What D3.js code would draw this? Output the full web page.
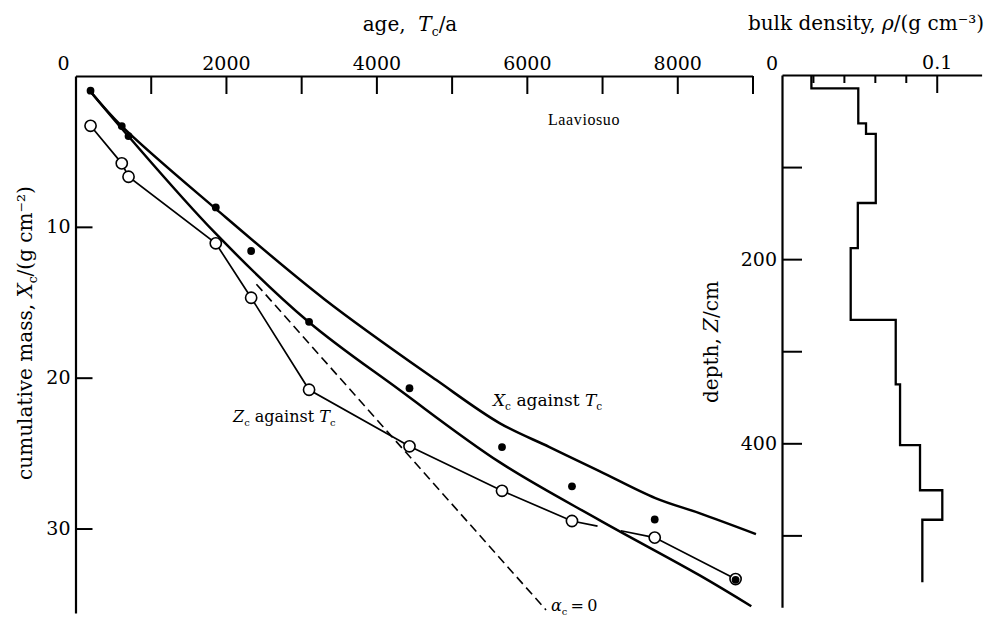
<!DOCTYPE html>
<html>
<head>
<meta charset="utf-8">
<script src="https://cdn.jsdelivr.net/npm/d3@7"></script>
<style>
  body { margin: 0; background: #fff; }
  svg { display: block; }
  text { fill: #000; }
</style>
</head>
<body>
<svg id="chart" width="1001" height="619"></svg>
<script>
// Radiocarbon-dated levels of the Laaviosuo core
const sampleAges = [200, 615, 705, 1865, 2335, 3105, 4440, 5670, 6600, 7700, 8775];
// cumulative mass X_c (filled dots) and Z_c (open circles), g cm^-2
const massX = [0.97, 3.32, 3.98, 8.71, 11.6, 16.3, 20.7, 24.6, 27.2, 29.4, 33.4];
const massZ = [3.3, 5.79, 6.68, 11.09, 14.7, 20.8, 24.55, 27.5, 29.5, 30.6, 33.35];

// fitted curves
const upperFitAges = [193, 614, 1866, 3313, 4797, 5637, 6301, 6965, 7709, 8293, 9046];
const upperFitMass = [0.99, 3.32, 8.81, 14.81, 20.16, 23.01, 24.60, 26.19, 27.98, 28.98, 30.37];
const lowerFitAges = [193, 701, 1853, 3101, 4309, 5637, 6965, 8293, 8984];
const lowerFitMass = [0.99, 3.98, 10.39, 16.31, 20.82, 25.60, 29.44, 33.09, 35.15];

// alpha_c = 0 reference line
const alphaZeroAges = [2405, 6255];
const alphaZeroMass = [13.8, 35.4];

// break in the Z_c line where it crosses the lower curve
const zcGapAges = [6940, 7250];

// axis ticks
const ageTicks = [1000, 2000, 3000, 4000, 5000, 6000, 7000, 8000, 9000];
const ageLabels = [2000, 4000, 6000, 8000];
const massTicks = [10, 20, 30];

// bulk density profile: layer boundaries (cm) and densities (g cm^-3)
const densityDepths = [0, 14.5, 52.5, 64, 139, 188, 266, 336, 402, 451, 483, 551];
const densityValues = [0.019, 0.0493, 0.0543, 0.0606, 0.049, 0.0444, 0.0735, 0.0763, 0.0892, 0.1036, 0.0907];
const densityTicks = [0.02, 0.04, 0.06, 0.08, 0.1];
const depthTicks = [100, 200, 300, 400, 500];
const depthLabels = [200, 400];

const svg = d3.select("#chart");
const SERIF = "'DejaVu Serif', serif";

const x = d3.scaleLinear().domain([0, 9000]).range([75.5, 752.5]);
const y = d3.scaleLinear().domain([0, 35.6]).range([76, 613]);
const rho = d3.scaleLinear().domain([0, 0.129]).range([782, 981.6]);
const z = d3.scaleLinear().domain([0, 578]).range([75, 607.2]);

function styleAxis(g, size) {
  g.select(".domain").attr("stroke", "#000").attr("stroke-width", 2.2);
  g.selectAll(".tick line").attr("stroke", "#000").attr("stroke-width", 2);
  g.selectAll(".tick text").attr("font-family", SERIF).attr("font-size", size).attr("fill", "#000");
}

// rich text: parts of {t, i (italic), sub}
function rich(parent, parts, size, attrs) {
  const t = parent.append("text").attr("font-family", SERIF).attr("font-size", size);
  Object.entries(attrs || {}).forEach(([k, v]) => t.attr(k, v));
  let shift = 0;
  parts.forEach(p => {
    const ts = t.append("tspan").text(p.t);
    let target = 0;
    if (p.sub) { ts.attr("font-size", size * 0.62); target = size * 0.25; }
    if (p.i) ts.attr("font-style", "italic");
    if (target !== shift) { ts.attr("dy", target - shift); shift = target; }
  });
  return t;
}

// ---- main panel axes ----
const gTop = svg.append("g").attr("transform", `translate(0,${y(0)})`)
  .call(d3.axisTop(x).tickValues(ageTicks).tickSizeInner(-18).tickSizeOuter(0).tickPadding(6)
    .tickFormat(d => ageLabels.includes(d) ? d : ""));
styleAxis(gTop, 19);
svg.append("text").attr("x", x(0) - 12).attr("y", y(0) - 6).attr("text-anchor", "middle")
  .attr("font-family", SERIF).attr("font-size", 19).text("0");

const gLeft = svg.append("g").attr("transform", `translate(${x(0)},0)`)
  .call(d3.axisLeft(y).tickValues(massTicks).tickSizeInner(-17).tickSizeOuter(0).tickPadding(5));
styleAxis(gLeft, 19);

// ---- curves ----
const line = d3.line().x(d => x(d[0])).y(d => y(d[1]));
const smooth = d3.line().x(d => x(d[0])).y(d => y(d[1])).curve(d3.curveCatmullRom.alpha(0.5));

svg.append("path").attr("d", smooth(d3.zip(upperFitAges, upperFitMass)))
  .attr("fill", "none").attr("stroke", "#000").attr("stroke-width", 2.5);
svg.append("path").attr("d", smooth(d3.zip(lowerFitAges, lowerFitMass)))
  .attr("fill", "none").attr("stroke", "#000").attr("stroke-width", 2.5);

svg.append("path").attr("d", line(d3.zip(alphaZeroAges, alphaZeroMass)))
  .attr("fill", "none").attr("stroke", "#000").attr("stroke-width", 1.6)
  .attr("stroke-dasharray", "9,5");

// Z_c polyline, broken between the 9th and 10th samples
const zPts = d3.zip(sampleAges, massZ);
const interpZ = a => {
  const i = d3.bisectLeft(sampleAges, a);
  const t = (a - sampleAges[i - 1]) / (sampleAges[i] - sampleAges[i - 1]);
  return [a, massZ[i - 1] + t * (massZ[i] - massZ[i - 1])];
};
const gapI = d3.bisectLeft(sampleAges, zcGapAges[0]);
const segA = zPts.slice(0, gapI).concat([interpZ(zcGapAges[0])]);
const segB = [interpZ(zcGapAges[1])].concat(zPts.slice(gapI));
[segA, segB].forEach(s => svg.append("path").attr("d", line(s))
  .attr("fill", "none").attr("stroke", "#000").attr("stroke-width", 1.7));

// ---- points ----
svg.append("g").selectAll("circle").data(zPts).join("circle")
  .attr("cx", d => x(d[0])).attr("cy", d => y(d[1])).attr("r", 5.6)
  .attr("fill", "#fff").attr("stroke", "#000").attr("stroke-width", 1.6);
svg.append("g").selectAll("circle").data(d3.zip(sampleAges, massX)).join("circle")
  .attr("cx", d => x(d[0])).attr("cy", d => y(d[1])).attr("r", 3.9).attr("fill", "#000");

// ---- annotations ----
rich(svg, [{t: "age,\u00a0 "}, {t: "T", i: true}, {t: "c", sub: true}, {t: "/a"}], 20,
  {x: 410, y: 31, "text-anchor": "middle"});
rich(svg, [{t: "cumulative mass, "}, {t: "X", i: true}, {t: "c", sub: true}, {t: "/(g cm\u207b\u00b2)"}], 20,
  {transform: "translate(32,333) rotate(-90)", "text-anchor": "middle"});
svg.append("text").attr("x", 548).attr("y", 125).attr("font-family", "'Liberation Serif', serif")
  .attr("font-size", 16).attr("letter-spacing", 0.6).text("Laaviosuo");
rich(svg, [{t: "X", i: true}, {t: "c", sub: true}, {t: " against "}, {t: "T", i: true}, {t: "c", sub: true}], 17,
  {x: 493, y: 406});
rich(svg, [{t: "Z", i: true}, {t: "c", sub: true}, {t: " against "}, {t: "T", i: true}, {t: "c", sub: true}], 16,
  {x: 233, y: 422});
rich(svg, [{t: "\u03b1", i: true}, {t: "c", sub: true}, {t: "\u2009=\u20090"}], 16, {x: 551, y: 611});

// ---- bulk density panel ----
const gRho = svg.append("g").attr("transform", `translate(0,${z(0)})`)
  .call(d3.axisTop(rho).tickValues(densityTicks).tickSizeInner(-8).tickSizeOuter(0).tickPadding(6)
    .tickFormat(d => d === 0.1 ? "0.1" : ""));
styleAxis(gRho, 19);
gRho.selectAll(".tick").filter(d => d === 0.1).select("line").attr("y2", 18);
svg.append("text").attr("x", rho(0) - 10).attr("y", z(0) - 5).attr("text-anchor", "middle")
  .attr("font-family", SERIF).attr("font-size", 19).text("0");

const gDepth = svg.append("g").attr("transform", `translate(${rho(0)},0)`)
  .call(d3.axisLeft(z).tickValues(depthTicks).tickSizeInner(-20).tickSizeOuter(0).tickPadding(5)
    .tickFormat(d => depthLabels.includes(d) ? d : ""));
styleAxis(gDepth, 19);

const stepPts = [];
densityValues.forEach((v, i) => { stepPts.push([v, densityDepths[i]], [v, densityDepths[i + 1]]); });
svg.append("path")
  .attr("d", d3.line().x(d => rho(d[0])).y(d => z(d[1]))(stepPts))
  .attr("fill", "none").attr("stroke", "#000").attr("stroke-width", 2.3);

rich(svg, [{t: "bulk density, "}, {t: "\u03c1", i: true}, {t: "/(g cm\u207b\u00b3)"}], 20,
  {x: 866, y: 30, "text-anchor": "middle"});
rich(svg, [{t: "depth, "}, {t: "Z", i: true}, {t: "/cm"}], 20,
  {transform: "translate(718,342) rotate(-90)", "text-anchor": "middle"});
</script>
</body>
</html>
